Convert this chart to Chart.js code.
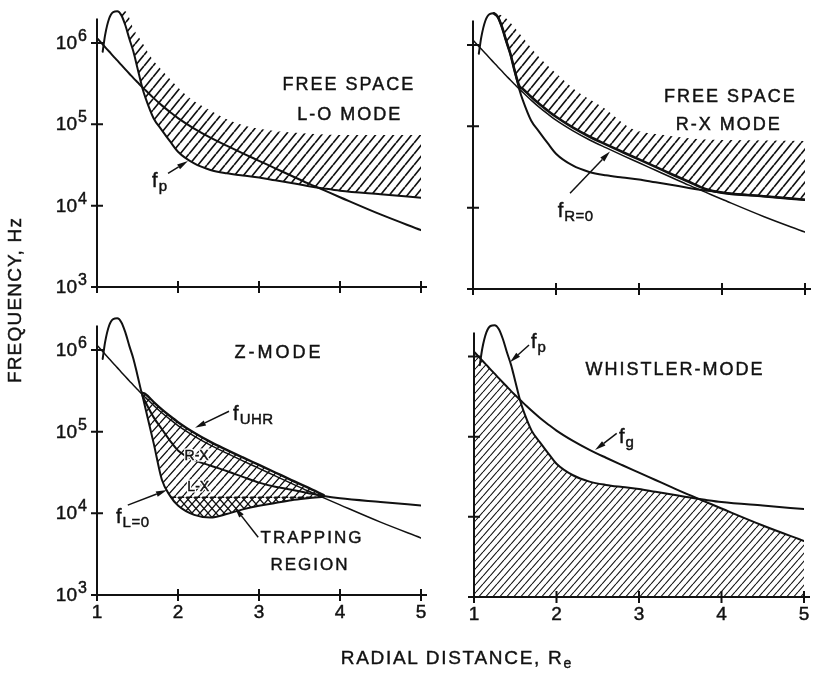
<!DOCTYPE html>
<html><head><meta charset="utf-8">
<script src="https://cdn.jsdelivr.net/npm/chart.js@4.4.1/dist/chart.umd.min.js"></script>
<style>
html,body{margin:0;padding:0;background:#fff}
#wrap{position:relative;width:813px;height:674px;overflow:hidden;background:#fff}
canvas{position:absolute;left:0;top:0}
.title{position:absolute;font-family:"Liberation Sans",Arial,sans-serif;font-size:19px;color:#111;white-space:nowrap;-webkit-text-stroke:0.4px #111}
#ytitle{left:-135px;top:289px;width:300px;height:22px;line-height:22px;text-align:center;transform:rotate(-90deg);letter-spacing:1.2px}
#xtitle{left:256px;top:647px;width:400px;height:22px;text-align:center;letter-spacing:1.7px;line-height:22px}
#xtitle sub{font-size:14px;vertical-align:-4px;letter-spacing:0}
</style></head>
<body><div id="wrap">
<canvas id="cTL" width="813" height="674"></canvas>
<canvas id="cTR" width="813" height="674"></canvas>
<canvas id="cBL" width="813" height="674"></canvas>
<canvas id="cBR" width="813" height="674"></canvas>
<div id="ytitle" class="title">FREQUENCY, Hz</div>
<div id="xtitle" class="title">RADIAL DISTANCE, R<sub>e</sub></div>
</div>
<script>
// ---------------- data ----------------
const radial = [1.0,1.07,1.1,1.15,1.2,1.25,1.3,1.35,1.4,1.45,1.5,1.56,1.6,1.7,1.8,1.9,2.0,2.2,2.4,2.6,2.8,3.0,3.2,3.4,3.6,3.8,4.0,4.5,5.0];
const fpHz = [null,7.8e5,1.25e6,2.0e6,2.4e6,2.45e6,2.2e6,1.65e6,1.12e6,7.8e5,4.9e5,2.8e5,2.1e5,1.18e5,8.5e4,6.2e4,4.6e4,3.3e4,2.75e4,2.5e4,2.35e4,2.22e4,2.05e4,1.9e4,1.75e4,1.63e4,1.53e4,1.38e4,1.25e4];
const fgHz = [1.15e6,9.6e5,8.9e5,7.85e5,6.9e5,6.1e5,5.37e5,4.74e5,4.19e5,3.7e5,3.29e5,2.86e5,2.62e5,2.1e5,1.71e5,1.42e5,1.19e5,8.85e4,6.84e4,5.46e4,4.4e4,3.56e4,2.88e4,2.33e4,1.89e4,1.55e4,1.27e4,7.8e3,5.0e3];

// R = 0 cutoff (free space R-X panel)
const rCutX = [1.25,1.3,1.35,1.4,1.45,1.5,1.56,1.6,1.7,1.8,1.9,2.0,2.2,2.4,2.6,2.8,3.0,3.2,3.4,3.6,3.8,4.0,4.5,5.0];
const fR0Hz = [2.45e6,2.2e6,1.65e6,1.12e6,7.8e5,4.9e5,3.1e5,2.88e5,2.31e5,1.88e5,1.56e5,1.31e5,9.7e4,7.5e4,6.0e4,4.84e4,3.92e4,3.17e4,2.56e4,2.08e4,1.7e4,1.53e4,1.38e4,1.25e4];

// Z-mode panel curves
const zX = [1.56,1.6,1.7,1.8,1.9,2.0,2.2,2.4,2.6,2.8,3.0,3.2,3.4,3.6,3.8];
const fUHRHz = [3.0e5,2.88e5,2.31e5,1.88e5,1.56e5,1.31e5,9.7e4,7.5e4,6.0e4,4.84e4,3.92e4,3.17e4,2.56e4,2.08e4,1.67e4];
const fL0Hz  = [2.8e5,1.9e5,7.2e4,2.6e4,1.65e4,1.25e4,9.6e3,8.9e3,9.8e3,1.12e4,1.24e4,1.34e4,1.45e4,1.53e4,1.6e4];
const zFpMidHz = [2.8e5,2.3e5,1.5e5,1.08e5,7.8e4,5.9e4,4.5e4,3.85e4,3.3e4,2.8e4,2.38e4,2.12e4,1.95e4,1.78e4,1.63e4];
const trapX = [1.91,3.7];
const trapHz = [1.58e4,1.58e4];

// upper edges of the free-space hatched bands
const loTopX  = [1.25,1.35,1.45,1.55,1.66,1.87,2.12,2.36,2.65,3.0,3.5,4.0,5.0];
const loTopHz = [2.45e6,2.45e6,1.5e6,1.05e6,6.8e5,3.9e5,2.2e5,1.55e5,1.1e5,8.8e4,7.8e4,7.4e4,7.4e4];
const rxTopX  = [1.25,1.35,1.57,1.77,2.01,2.25,2.57,2.9,3.3,3.7,4.1,5.0];
const rxTopHz = [2.4e6,2.3e6,1.35e6,7.6e5,4.4e5,2.7e5,1.7e5,9.5e4,7.8e4,7.0e4,6.8e4,6.6e4];

// axes
const xTicks = [1,2,3,4,5];
const xTickLabels = ['1','2','3','4','5'];
const yTicks = [1e3,1e4,1e5,1e6];
const yTickExp = ['3','4','5','6'];
const yMaxHz = Math.pow(10,6.43);
const yAxisTopHz = Math.pow(10,6.3);

// ---------------- helpers ----------------
const ink = '#111';
const FONT = '"Liberation Sans", Arial, sans-serif';
const pts = (xs, ys) => xs.map((x,i)=>({x:x, y:ys[i]})).filter(p=>p.y!=null);

function hatch(canvasId, w, h, lw, dir) {
  const c = document.createElement('canvas'); c.width = w; c.height = h;
  const g = c.getContext('2d'); g.strokeStyle = ink; g.lineWidth = lw;
  g.beginPath();
  for (const dx of [-w,0,w]) {
    if (dir > 0) { g.moveTo(dx, h); g.lineTo(dx+w, 0); }
    else { g.moveTo(dx, 0); g.lineTo(dx+w, h); }
  }
  g.stroke();
  return document.getElementById(canvasId).getContext('2d').createPattern(c, 'repeat');
}
function lineDs(data, w, extra) {
  return Object.assign({data:data, borderColor:ink, borderWidth:w, pointRadius:0, fill:false,
    cubicInterpolationMode:'monotone', backgroundColor:'rgba(0,0,0,0)'}, extra||{});
}
function bandDs(data, fill) {
  return {data:data, borderWidth:0, borderColor:'rgba(0,0,0,0)', pointRadius:0,
    cubicInterpolationMode:'monotone', fill:fill, backgroundColor:'rgba(0,0,0,0)'};
}
function txt(ctx, s, x, y, halo) {
  if (halo) { ctx.save(); ctx.strokeStyle = '#fff'; ctx.lineWidth = 3; ctx.strokeText(s, x, y); ctx.restore(); }
  ctx.lineWidth = 0.45; ctx.strokeText(s, x, y); ctx.fillText(s, x, y);
}

function decor(d) {
  return {
    id: 'decor',
    afterDraw(chart) {
      const ctx = chart.ctx, xs = chart.scales.x, ys = chart.scales.y;
      const X = v => xs.getPixelForValue(v), Y = v => ys.getPixelForValue(v);
      ctx.save();
      ctx.strokeStyle = ink; ctx.fillStyle = ink; ctx.lineWidth = 2; ctx.lineCap = 'butt';
      const ax = X(1), ay = Y(1e3), T = 6;
      ctx.beginPath();
      ctx.moveTo(ax, Y(yAxisTopHz)); ctx.lineTo(ax, ay + T);
      ctx.moveTo(ax - T, ay); ctx.lineTo(X(5) + T, ay);
      yTicks.forEach(v => { ctx.moveTo(ax - T, Y(v)); ctx.lineTo(ax + T, Y(v)); });
      xTicks.forEach(v => { ctx.moveTo(X(v), ay - T); ctx.lineTo(X(v), ay + T); });
      ctx.stroke();
      if (d.yLabels) {
        yTicks.forEach((v,i) => {
          ctx.font = '19px ' + FONT; ctx.textAlign = 'right'; ctx.textBaseline = 'alphabetic';
          txt(ctx, '10', ax - 20, Y(v) + 6);
          ctx.font = '16px ' + FONT; ctx.textAlign = 'left';
          txt(ctx, yTickExp[i], ax - 19, Y(v) - 2);
        });
      }
      if (d.xLabels) {
        ctx.font = '19px ' + FONT; ctx.textAlign = 'center'; ctx.textBaseline = 'alphabetic';
        xTicks.forEach((v,i) => txt(ctx, xTickLabels[i], X(v), ay + 23));
      }
      (d.texts||[]).forEach(t => {
        ctx.font = (t.size||18) + 'px ' + FONT; ctx.textAlign = 'center'; ctx.textBaseline = 'middle';
        ctx.letterSpacing = (t.sp==null?2:t.sp) + 'px';
        txt(ctx, t.text, X(t.x), Y(t.y), t.halo);
        ctx.letterSpacing = '0px';
      });
      (d.subs||[]).forEach(t => {
        ctx.textAlign = 'left'; ctx.textBaseline = 'alphabetic';
        ctx.font = '20px ' + FONT;
        const px = X(t.x), py = Y(t.y);
        txt(ctx, t.main, px, py);
        const w = ctx.measureText(t.main).width;
        ctx.font = '15px ' + FONT; ctx.letterSpacing = '0.5px';
        txt(ctx, t.sub, px + w + 1, py + 4);
        ctx.letterSpacing = '0px';
      });
      (d.arrows||[]).forEach(a => {
        const x1 = X(a.from[0]), y1 = Y(a.from[1]), x2 = X(a.to[0]), y2 = Y(a.to[1]);
        const ang = Math.atan2(y2 - y1, x2 - x1), L = 11, H = 2.8;
        const bx = x2 - L*Math.cos(ang), by = y2 - L*Math.sin(ang);
        ctx.lineWidth = 1.5;
        ctx.beginPath(); ctx.moveTo(x1, y1); ctx.lineTo(bx, by); ctx.stroke();
        ctx.beginPath();
        ctx.moveTo(x2, y2);
        ctx.lineTo(bx + H*Math.sin(ang), by - H*Math.cos(ang));
        ctx.lineTo(bx - H*Math.sin(ang), by + H*Math.cos(ang));
        ctx.closePath(); ctx.fill();
      });
      ctx.restore();
    }
  };
}

function makeChart(id, pad, datasets, d) {
  return new Chart(document.getElementById(id), {
    type: 'line',
    data: {datasets: datasets},
    options: {
      responsive: false, animation: false, events: [],
      layout: {padding: pad},
      scales: {
        x: {type:'linear', min:1, max:5, display:false},
        y: {type:'logarithmic', min:1e3, max:yMaxHz, display:false}
      },
      plugins: {legend:{display:false}, tooltip:{enabled:false}},
      elements: {point:{radius:0}, line:{borderCapStyle:'round', borderJoinStyle:'round'}}
    },
    plugins: [decor(d)]
  });
}

// ---------------- series built from the arrays ----------------
const fpPts = pts(radial, fpHz);
const fgPts = pts(radial, fgHz);
const zFpLine = pts(radial, radial.map((x,i) => (x < 1.56 || x > 3.8) ? fpHz[i] : zFpMidHz[zX.indexOf(x)]));
const whistlerEdge = pts(radial, radial.map((x,i) => (x < 1.3 || fpHz[i]==null) ? fgHz[i] : Math.min(fpHz[i], fgHz[i])));

// ---------------- top-left: free space L-O ----------------
makeChart('cTL', {left:97, right:392, top:8, bottom:387}, [
  lineDs(fpPts, 2),
  lineDs(fgPts, 2),
  bandDs(pts(loTopX, loTopHz), {target:0, above:hatch('cTL',9,11,1.7,1), below:'rgba(0,0,0,0)'})
], {
  yLabels:true, xLabels:false,
  texts:[{text:'FREE SPACE', x:4.11, y:3.0e5}, {text:'L-O MODE', x:4.12, y:1.29e5}],
  subs:[{main:'f', sub:'p', x:1.68, y:1.7e4}],
  arrows:[{from:[1.877,2.5e4], to:[2.123,3.53e4]}]
});

// ---------------- top-right: free space R-X ----------------
makeChart('cTR', {left:473, right:8, top:10, bottom:385}, [
  lineDs(fpPts, 2),
  lineDs(fgPts, 1.5),
  lineDs(pts(rCutX, fR0Hz), 2.6),
  bandDs(pts(rxTopX, rxTopHz), {target:2, above:hatch('cTR',9,11,1.7,1), below:'rgba(0,0,0,0)'})
], {
  yLabels:false, xLabels:false,
  texts:[{text:'FREE SPACE', x:4.10, y:2.29e5}, {text:'R-X MODE', x:4.08, y:1.05e5}],
  subs:[{main:'f', sub:'R=0', x:2.02, y:7.7e3}],
  arrows:[{from:[2.169,1.5e4], to:[2.65,4.9e4]}]
});

// ---------------- bottom-left: Z-mode ----------------
makeChart('cBL', {left:97, right:392, top:315, bottom:79}, [
  lineDs(zFpLine, 2),
  lineDs(fgPts, 1.5),
  lineDs(pts(zX, fUHRHz), 2.4),
  lineDs(pts(zX, fL0Hz), 2),
  lineDs(pts(trapX, trapHz), 1.5, {borderDash:[5,3], cubicInterpolationMode:'default', tension:0}),
  bandDs(pts(zX, fUHRHz), {target:3, above:hatch('cBL',8,9,1.3,1), below:'rgba(0,0,0,0)'}),
  bandDs(pts(trapX, trapHz), {target:3, above:hatch('cBL',8,9,1.3,-1), below:'rgba(0,0,0,0)'})
], {
  yLabels:true, xLabels:true,
  texts:[{text:'Z-MODE', x:3.247, y:9.1e5, sp:3},
         {text:'TRAPPING', x:3.654, y:4.9e3, size:17},
         {text:'REGION', x:3.63, y:2.29e3, size:17},
         {text:'R-X', x:2.23, y:5.0e4, size:14, sp:0, halo:true},
         {text:'L-X', x:2.25, y:2.07e4, size:14, sp:0, halo:true}],
  subs:[{main:'f', sub:'UHR', x:2.68, y:1.38e5}, {main:'f', sub:'L=0', x:1.235, y:7.6e3}],
  arrows:[{from:[2.63,1.78e5], to:[2.21,1.12e5]},
          {from:[1.38,1.26e4], to:[1.864,1.93e4]},
          {from:[2.99,5.1e3], to:[2.70,1.19e4]}]
});

// ---------------- bottom-right: whistler ----------------
makeChart('cBR', {left:474, right:9, top:322, bottom:77}, [
  lineDs(fpPts, 2),
  lineDs(fgPts, 2),
  bandDs(whistlerEdge, {target:'start', above:hatch('cBR',7,8,1.1,1), below:hatch('cBR',7,8,1.1,1)})
], {
  yLabels:false, xLabels:true,
  texts:[{text:'WHISTLER-MODE', x:3.436, y:6.8e5}],
  subs:[{main:'f', sub:'p', x:1.69, y:1.27e6}, {main:'f', sub:'g', x:2.758, y:8.3e4}],
  arrows:[{from:[1.667,1.39e6], to:[1.436,8.5e5]}, {from:[2.73,1.1e5], to:[2.467,6.8e4]}]
});
</script>
</body></html>
